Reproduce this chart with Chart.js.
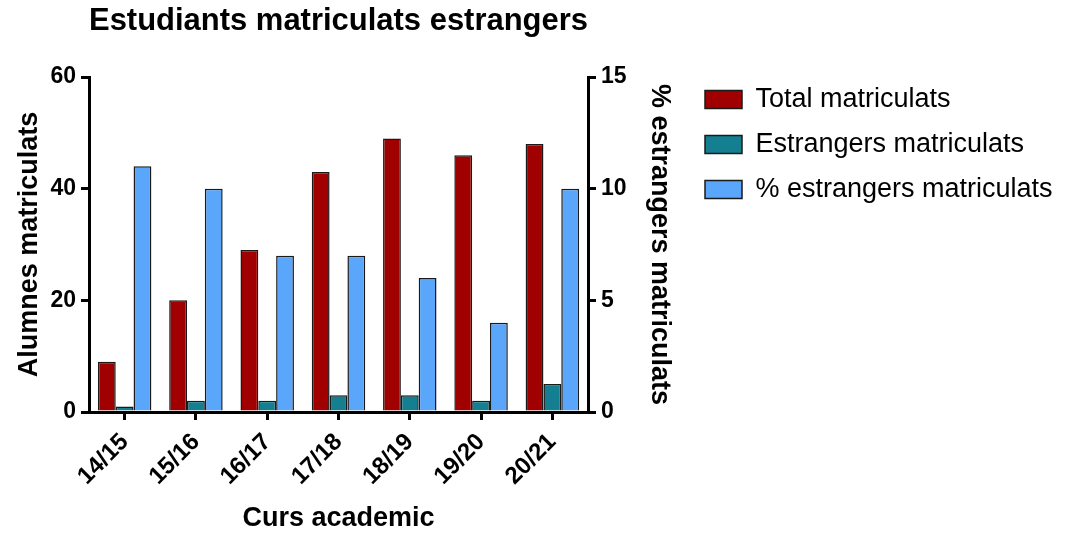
<!DOCTYPE html>
<html>
<head>
<meta charset="utf-8">
<script src="https://cdn.jsdelivr.net/npm/chart.js@4"></script>
<style>
  html, body { margin: 0; padding: 0; background: #fff; }
  #wrap { width: 1068px; height: 535px; }
</style>
</head>
<body>
<div id="wrap"><canvas id="chart"></canvas></div>
<script>
const cursos = ['14/15', '15/16', '16/17', '17/18', '18/19', '19/20', '20/21'];
const totalMatriculats = [9, 20, 29, 43, 49, 46, 48];
const estrangersMatriculats = [1, 2, 2, 3, 3, 2, 5];
const percentEstrangers = [11, 10, 7, 7, 6, 4, 10];

Chart.defaults.font.family = '"Liberation Sans", Arial, sans-serif';
Chart.defaults.color = '#000';

const axisGrid = {
  drawOnChartArea: false,
  drawTicks: true,
  tickLength: 8,
  color: '#000',
  lineWidth: 3,
};

// the layout caps a side box at a sixth of the width, give the legend its real width back
const wideLegend = {
  id: 'wideLegend',
  beforeLayout(chart) {
    const lg = chart.legend;
    if (lg && !lg._wide) {
      const fit = lg.fit;
      lg.fit = function () {
        fit.call(this);
        this.width = 381;
      };
      lg._wide = true;
    }
  },
};

new Chart(document.getElementById('chart'), {
  type: 'bar',
  data: {
    labels: cursos,
    datasets: [
      {
        label: 'Total matriculats',
        data: totalMatriculats,
        backgroundColor: '#a00000',
        borderColor: '#1a1a1a',
        borderWidth: 1.5,
        yAxisID: 'y',
      },
      {
        label: 'Estrangers matriculats',
        data: estrangersMatriculats,
        backgroundColor: '#137f90',
        borderColor: '#1a1a1a',
        borderWidth: 1.5,
        yAxisID: 'y',
      },
      {
        label: '% estrangers matriculats',
        data: percentEstrangers,
        backgroundColor: '#5aa6fb',
        borderColor: '#1a1a1a',
        borderWidth: 1.5,
        yAxisID: 'y2',
      },
    ],
  },
  plugins: [wideLegend],
  options: {
    responsive: true,
    maintainAspectRatio: false,
    animation: false,
    categoryPercentage: 0.75,
    barPercentage: 1.0,
    layout: { padding: 0 },
    scales: {
      x: {
        offset: true,
        grid: { ...axisGrid, offset: false },
        border: { display: true, color: '#000', width: 3 },
        ticks: {
          minRotation: 45,
          maxRotation: 45,
          padding: 8,
          font: { size: 24, weight: 'bold' },
        },
        title: {
          display: true,
          text: 'Curs academic',
          font: { size: 27, weight: 'bold' },
          padding: { top: 0, bottom: 0 },
        },
        afterFit: (scale) => { scale.height = 123; },
      },
      y: {
        position: 'left',
        min: 0,
        max: 60,
        ticks: { stepSize: 20, padding: 5, font: { size: 23, weight: 'bold' } },
        grid: axisGrid,
        border: { display: true, color: '#000', width: 3 },
        title: {
          display: true,
          text: 'Alumnes matriculats',
          font: { size: 27, weight: 'bold' },
          padding: { top: 13, bottom: 0 },
        },
        afterFit: (scale) => { scale.width = 89; },
      },
      y2: {
        position: 'right',
        min: 0,
        max: 15,
        ticks: { stepSize: 5, padding: 5, font: { size: 23, weight: 'bold' } },
        grid: axisGrid,
        border: { display: true, color: '#000', width: 3 },
        title: {
          display: true,
          text: '% estrangers matriculats',
          font: { size: 27, weight: 'bold' },
          padding: { top: 11, bottom: 0 },
        },
        afterFit: (scale) => { scale.width = 99; },
      },
    },
    plugins: {
      title: {
        display: true,
        text: 'Estudiants matriculats estrangers',
        fullSize: false,
        font: { size: 32, weight: 'bold' },
        padding: { top: 2, bottom: 36.6 },
      },
      legend: {
        position: 'right',
        align: 'start',
        title: { display: true, text: ' ', font: { size: 12 }, padding: { top: 0, bottom: 53.6 } },
        labels: {
          boxWidth: 37,
          boxHeight: 18,
          padding: 18,
          font: { size: 27 },
          color: '#000',
        },
      },
      tooltip: { enabled: false },
    },
  },
});
</script>
</body>
</html>
